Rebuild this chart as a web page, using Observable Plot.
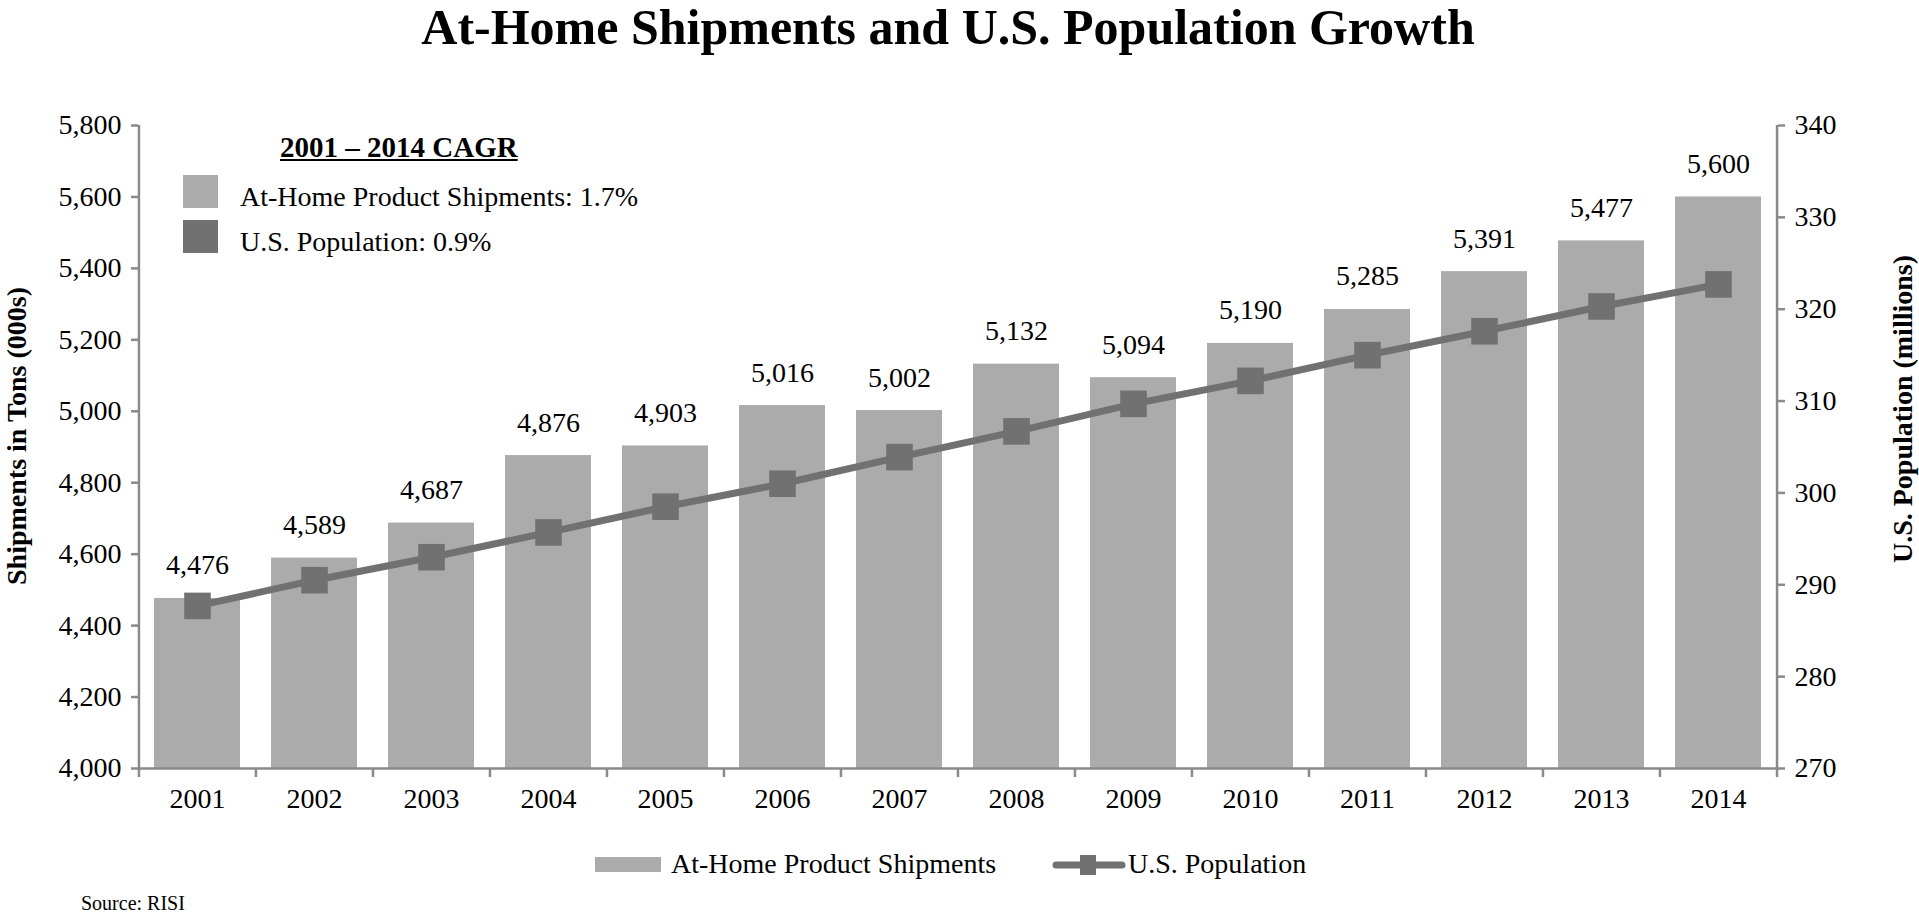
<!DOCTYPE html>
<html>
<head>
<meta charset="utf-8">
<script src="https://cdn.jsdelivr.net/npm/d3@7"></script>
<script src="https://cdn.jsdelivr.net/npm/@observablehq/plot@0.6"></script>
<style>
  body { margin: 0; background: #fff; font-family: "Liberation Serif", "Times New Roman", serif; }
  #wrap { position: relative; width: 1919px; height: 917px; overflow: hidden; background: #fff; }
  #title { position: absolute; left: 0; top: 2px; width: 1896px; text-align: center; font-weight: bold; font-size: 50px; line-height: 50px; color: #000; }
  #chart { position: absolute; left: 0; top: 70px; }
  .abs { position: absolute; white-space: nowrap; color: #000; }
  .t28 { font-size: 28px; line-height: 28px; }
</style>
</head>
<body>
<div id="wrap">
  <div id="title">At-Home Shipments and U.S. Population Growth</div>
  <div id="chart"></div>

  <!-- CAGR legend inside plot area -->
  <div class="abs" style="left:280px; top:133px; font-size:29px; line-height:29px; font-weight:bold; text-decoration:underline;">2001 – 2014 CAGR</div>
  <div class="abs" style="left:183px; top:175px; width:35px; height:33px; background:#ababab;"></div>
  <div class="abs t28" style="left:240px; top:183px;" id="cagr1"></div>
  <div class="abs" style="left:183px; top:220px; width:35px; height:33px; background:#717171;"></div>
  <div class="abs t28" style="left:240px; top:228px;" id="cagr2"></div>

  <!-- bottom legend -->
  <div class="abs" style="left:595px; top:857px; width:66px; height:15px; background:#ababab;"></div>
  <div class="abs t28" style="left:671px; top:850px;" id="leg1"></div>
  <svg class="abs" style="left:1050px; top:850px;" width="78" height="30">
    <line x1="6" y1="15" x2="72" y2="15" stroke="#717171" stroke-width="7" stroke-linecap="round"></line>
    <rect x="30" y="5" width="16" height="20" fill="#717171"></rect>
  </svg>
  <div class="abs t28" style="left:1128px; top:850px;" id="leg2"></div>

  <div class="abs" style="left:81px; top:893px; font-size:20px; line-height:20px;">Source: RISI</div>
</div>

<script>
// ---- data ----
const years = ["2001","2002","2003","2004","2005","2006","2007","2008","2009","2010","2011","2012","2013","2014"];
const shipments = [4476, 4589, 4687, 4876, 4903, 5016, 5002, 5132, 5094, 5190, 5285, 5391, 5477, 5600];
const population = [287.7, 290.5, 293.0, 295.7, 298.5, 301.0, 303.9, 306.7, 309.7, 312.2, 315.0, 317.6, 320.3, 322.7];
const leftTicks = [4000, 4200, 4400, 4600, 4800, 5000, 5200, 5400, 5600, 5800];
const rightTicks = [270, 280, 290, 300, 310, 320, 330, 340];
const seriesNames = ["At-Home Product Shipments", "U.S. Population"];
const cagr = ["1.7%", "0.9%"];
const axisTitles = ["Shipments in Tons (000s)", "U.S. Population (millions)"];

document.getElementById("cagr1").textContent = seriesNames[0] + ": " + cagr[0];
document.getElementById("cagr2").textContent = seriesNames[1] + ": " + cagr[1];
document.getElementById("leg1").textContent = seriesNames[0];
document.getElementById("leg2").textContent = seriesNames[1];

const yMin = 4000, yMax = 5800, pMin = 270, pMax = 340;
const popToLeft = p => yMin + (p - pMin) * (yMax - yMin) / (pMax - pMin);
const leftToPop = v => Math.round(pMin + (v - yMin) * (pMax - pMin) / (yMax - yMin));

const data = years.map((year, i) => ({year, ship: shipments[i], pop: population[i]}));
const fmt = d3.format(",");

const W = 1919, H = 750, mL = 138, mR = 142, mT = 55, mB = 52;
const step = (W - mL - mR) / years.length;
const half = step / 2;
const axisGray = "#8a8a8a";

const plot = Plot.plot({
  width: W, height: H,
  marginLeft: mL, marginRight: mR, marginTop: mT, marginBottom: mB,
  style: {fontFamily: "Liberation Serif, Times New Roman, serif", fontSize: "28px", color: "#000", background: "transparent", overflow: "visible"},
  x: {type: "band", domain: years, paddingInner: 0.265, paddingOuter: 0.1325},
  y: {domain: [yMin, yMax]},
  marks: [
    Plot.barY(data, {x: "year", y1: yMin, y2: "ship", fill: "#ababab"}),
    Plot.ruleY([yMin], {stroke: axisGray, strokeWidth: 2.5}),
    Plot.ruleX([years[0]], {y1: yMin, y2: yMax, dx: -half, stroke: axisGray, strokeWidth: 2.5}),
    Plot.ruleX([years[years.length - 1]], {y1: yMin, y2: yMax, dx: half, stroke: axisGray, strokeWidth: 2.5}),
    Plot.axisY(leftTicks, {anchor: "left", tickFormat: fmt, tickSize: 7, tickPadding: 10, label: null, stroke: axisGray, strokeWidth: 2.5, fill: "#000"}),
    Plot.axisY(rightTicks.map(popToLeft), {anchor: "right", tickFormat: leftToPop, tickSize: 7, tickPadding: 10, label: null, stroke: axisGray, strokeWidth: 2.5, fill: "#000"}),
    Plot.axisX({tickSize: 0, tickPadding: 20, label: null, fill: "#000"}),
    Plot.axisX({tickSize: 9, tickFormat: () => "", label: null, dx: -half, stroke: axisGray, strokeWidth: 2.5}),
    Plot.axisX([years[years.length - 1]], {tickSize: 9, tickFormat: () => "", label: null, dx: half, stroke: axisGray, strokeWidth: 2.5}),
    Plot.line(data, {x: "year", y: d => popToLeft(d.pop), stroke: "#717171", strokeWidth: 7}),
    Plot.dot(data, {x: "year", y: d => popToLeft(d.pop), symbol: "square", r: 15, fill: "#717171"}),
    Plot.text(data, {x: "year", y: "ship", text: d => fmt(d.ship), dy: -33, fill: "#000"}),
    Plot.text([axisTitles[0]], {text: d => d, frameAnchor: "left", textAnchor: "middle", lineAnchor: "middle", rotate: -90, dx: -121, dy: -11, fontWeight: "bold", fontSize: 28, fill: "#000"}),
    Plot.text([axisTitles[1]], {text: d => d, frameAnchor: "right", textAnchor: "middle", lineAnchor: "middle", rotate: -90, dx: 126, dy: -38, fontWeight: "bold", fontSize: 28, fill: "#000"})
  ]
});
document.getElementById("chart").appendChild(plot);
</script>
</body>
</html>
